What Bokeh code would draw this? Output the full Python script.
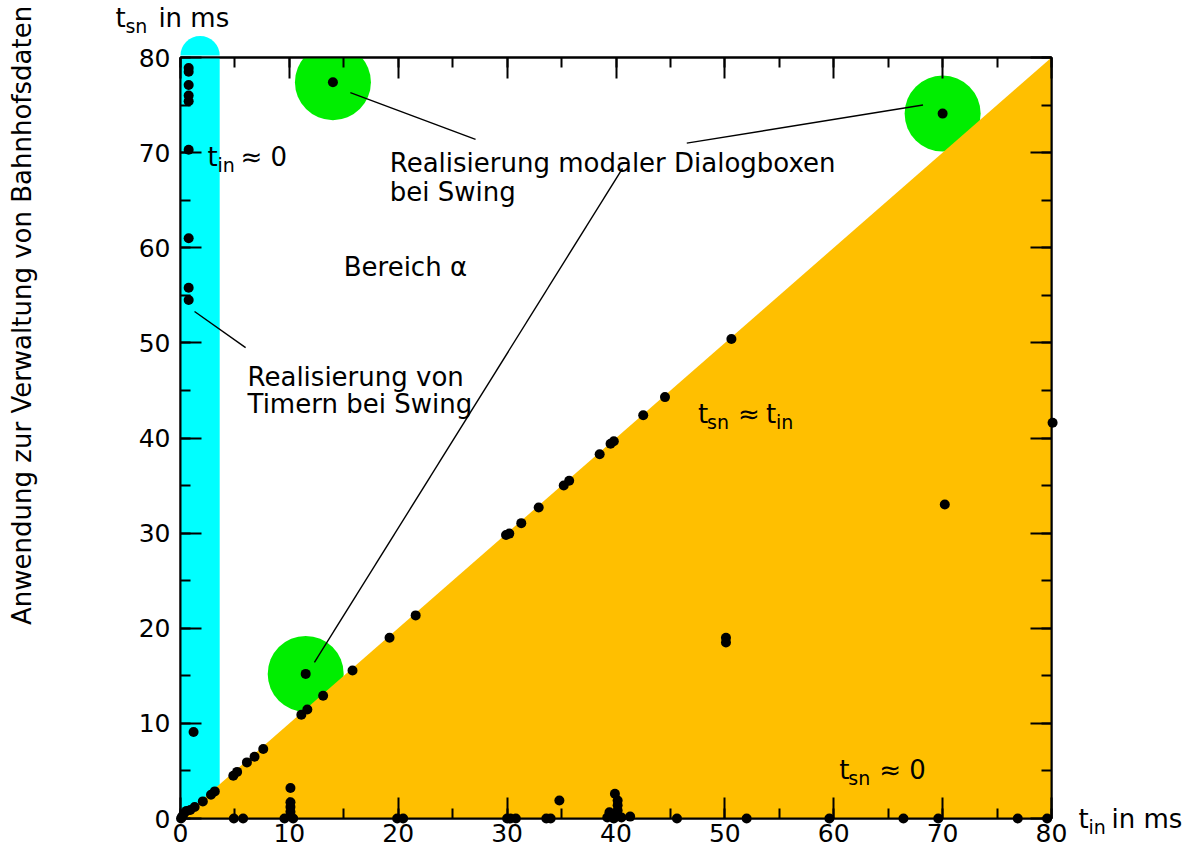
import math
from bokeh.plotting import figure
from bokeh.models import Range1d, LinearAxis, SingleIntervalTicker, BoxAnnotation
from bokeh.core.properties import value
from bokeh.embed import file_html
from bokeh.resources import INLINE

# ---------------- data ----------------
# measured points (t_in, t_sn) in ms
t_in = [0.75, 0.75, 0.75, 0.75, 0.75, 0.75, 0.75, 0.75, 0.75, 1.2,
        0.05, 0.15, 0.3, 0.55, 0.9, 1.3, 2.05, 2.8, 3.15, 4.85, 5.2, 6.1, 6.8, 7.6,
        4.9, 5.75, 9.55, 10.35, 10.1, 10.1, 10.1, 10.1, 19.9, 20.45,
        30.0, 30.3, 30.8, 33.6, 34.0, 34.8, 39.2, 39.8, 40.5, 41.3, 39.4, 40.15, 40.15, 40.15, 39.9,
        45.6, 52.0, 59.6, 66.4, 69.6, 76.9, 79.6,
        11.1, 11.65, 13.1, 15.8, 19.2, 21.6, 29.9, 30.2, 31.3, 32.9, 35.2, 35.7, 38.5, 39.5, 39.8,
        42.5, 44.5, 50.6,
        11.5, 14.0, 70.0, 50.1, 50.1, 70.2, 80.1]
t_sn = [78.9, 78.5, 77.1, 76.0, 75.4, 70.3, 61.0, 55.8, 54.5, 9.1,
        0.0, 0.2, 0.5, 0.8, 0.9, 1.2, 1.8, 2.5, 2.85, 4.5, 4.9, 5.9, 6.5, 7.3,
        0.0, 0.0, 0.0, 0.0, 0.7, 1.2, 1.7, 3.2, 0.0, 0.0,
        0.0, 0.0, 0.0, 0.0, 0.0, 1.9, 0.1, 0.0, 0.1, 0.2, 0.65, 0.85, 1.4, 1.9, 2.6,
        0.0, 0.0, 0.0, 0.0, 0.0, 0.0, 0.0,
        10.9, 11.45, 12.9, 15.55, 19.0, 21.35, 29.8, 29.95, 31.05, 32.7, 35.0, 35.5, 38.3, 39.4, 39.65,
        42.4, 44.3, 50.4,
        15.2, 77.4, 74.1, 19.0, 18.5, 33.0, 41.6]

# highlighted (Swing dialog) points
hl_in = [14.0, 70.0, 11.5]
hl_sn = [77.4, 74.1, 15.2]

# region t_sn <= t_in
region_in = [0, 80, 80]
region_sn = [0, 80, 0]

# t_in ~ 0 band
band_left, band_right = 0.0, 3.6
band_center = 1.8
band_cap_y = 80.21

# callout lines
call_x0 = [1.29, 15.6, 46.5, 40.6]
call_y0 = [53.3, 76.3, 71.0, 68.35]
call_x1 = [5.98, 27.1, 68.2, 12.3]
call_y1 = [49.5, 71.4, 75.0, 16.4]

ticks_major = 10

FONT = "DejaVu Sans"

# ---------------- figure ----------------
p = figure(width=1190, height=854, x_range=Range1d(0, 80), y_range=Range1d(0, 80),
           output_backend="svg", toolbar_location=None,
           min_border_left=180, min_border_right=139, min_border_top=57, min_border_bottom=36)
p.grid.visible = False
p.outline_line_color = "black"
p.outline_line_width = 2
p.background_fill_color = "white"
p.border_fill_color = "white"

def style_axis(ax, labels=True):
    ax.ticker = SingleIntervalTicker(interval=ticks_major, num_minor_ticks=2)
    ax.major_tick_in = 21
    ax.major_tick_out = 0
    ax.minor_tick_in = 10
    ax.minor_tick_out = 0
    ax.axis_line_width = 2
    ax.major_tick_line_width = 2
    ax.minor_tick_line_width = 2
    ax.axis_line_color = "black"
    ax.major_tick_line_color = "black"
    ax.minor_tick_line_color = "black"
    ax.major_label_text_font = FONT
    ax.major_label_text_font_size = "25px"
    ax.major_label_text_color = "black"
    ax.major_label_standoff = 8
    if not labels:
        ax.major_label_text_font_size = "0px"
        ax.major_label_text_color = None

style_axis(p.xaxis[0])
style_axis(p.yaxis[0])
p.xaxis[0].major_label_standoff = 5
p.yaxis[0].major_label_standoff = 10

top_ax = LinearAxis()
right_ax = LinearAxis()
style_axis(top_ax, labels=False)
style_axis(right_ax, labels=False)
p.add_layout(top_ax, "above")
p.add_layout(right_ax, "right")

# cyan band (body inside frame + rounded cap above the frame)
p.add_layout(BoxAnnotation(left=band_left, right=band_right, bottom=0, top=80,
                           fill_color="#00FFFF", fill_alpha=1.0, line_color=None,
                           level="underlay"))
cap = p.wedge(x=[band_center], y=[band_cap_y], radius=19.6, radius_units="screen",
              start_angle=0, end_angle=math.pi, fill_color="#00FFFF", line_color=None)
cap.level = "overlay"

# green highlight circles
p.circle(hl_in, hl_sn, radius=38, radius_units="screen", fill_color="#00EE00", line_color=None)

# orange region
p.patch(region_in, region_sn, fill_color="#FFBF00", line_color=None)

# callouts
p.segment(x0=call_x0, y0=call_y0, x1=call_x1, y1=call_y1, line_color="black", line_width=1.4)

# points
pts = p.scatter(t_in, t_sn, size=10, fill_color="black", line_color=None)
pts.level = "overlay"

def add_text(x, y, pieces, angle=0.0, align="left"):
    # glyph text; pieces: (text, size, dx, dy) with dy positive = down
    for text, size, dx, dy in pieces:
        r = p.text(x=[x], y=[y], text=[text], x_offset=dx, y_offset=dy, angle=angle,
                   text_font=value(FONT), text_font_size=value(f"{size}px"),
                   text_color="black", text_align=align, text_baseline="middle")
        r.level = "overlay"

# axis titles outside the frame
add_text(-5.98, 84.1, [("t", 26, 0, 0), ("sn", 19, 10, 8), ("in ms", 26, 43, 0)])
add_text(82.48, 0.0, [("t", 26, 0, 0), ("in", 19, 10, 8), ("in ms", 26, 33, 0)])
add_text(-14.53, 52.89, [("Anwendung zur Verwaltung von Bahnhofsdaten", 26, 0, 0)],
         angle=math.pi / 2, align="center")

# annotations inside the frame
add_text(2.48, 69.5, [("t", 26, 0, 0), ("in", 19, 10, 8), ("≈ 0", 26, 33, 0)])
add_text(47.54, 42.48, [("t", 26, 0, 0), ("sn", 19, 9, 8), ("≈", 26, 40, 0), ("t", 26, 68, 0), ("in", 19, 78, 8)])
add_text(60.51, 5.05, [("t", 26, 0, 0), ("sn", 19, 9, 8), ("≈ 0", 26, 40, 0)])
add_text(19.22, 68.87, [("Realisierung modaler Dialogboxen", 26, 0, 0)])
add_text(19.22, 65.82, [("bei Swing", 26, 0, 0)])
add_text(14.99, 57.94, [("Bereich α", 26, 0, 0)])
add_text(6.16, 46.37, [("Realisierung von", 26, 0, 0)])
add_text(6.16, 43.53, [("Timern bei Swing", 26, 0, 0)])

open("out.html", "w").write(file_html(p, INLINE))
